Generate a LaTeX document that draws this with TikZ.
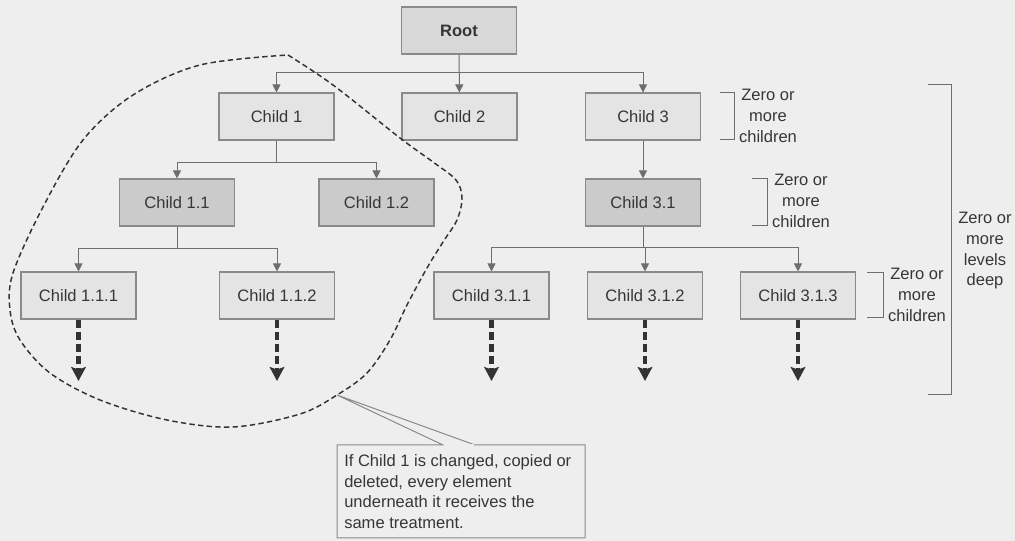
\documentclass[tikz,border=0pt]{standalone}
\usepackage{fontspec}
\setmainfont{Liberation Sans}
\usetikzlibrary{arrows.meta}
\definecolor{bg}{HTML}{EEEEEE}
\definecolor{lightfill}{HTML}{E4E4E4}
\definecolor{darkfill}{HTML}{CBCBCB}
\definecolor{rootfill}{HTML}{D8D8D8}
\definecolor{boxline}{HTML}{8A8A8A}
\definecolor{lineclr}{HTML}{6E6E6E}
\definecolor{txt}{HTML}{363636}
\definecolor{heavy}{HTML}{333333}
\begin{document}
\begin{tikzpicture}[x=0.75pt,y=-0.75pt,
  box/.style={draw=boxline, line width=0.8pt, minimum width=86.25pt,
    minimum height=35.25pt, inner sep=0pt, text=txt,
    font=\fontsize{12.4}{14}\selectfont},
  light/.style={box, fill=lightfill},
  dark/.style={box, fill=darkfill},
  conn/.style={draw=lineclr, line width=0.75pt,
    -{Triangle[length=6pt,width=6pt]}},
  wire/.style={draw=lineclr, line width=0.75pt},
  more/.style={draw=heavy, line width=3.2pt, dash pattern=on 6.5pt off 2.5pt,
    -{Stealth[length=10.5pt,width=11pt,inset=2pt]}},
  brace/.style={draw=lineclr, line width=0.75pt},
  note/.style={text=txt, align=center, inner sep=0pt,
    font=\fontsize{12.4}{15.5}\selectfont},
  group/.style={draw=heavy, line width=1.1pt, dash pattern=on 4pt off 2.5pt}]

% canvas
\fill[bg] (0,0) rectangle (1015,541);
\useasboundingbox (0,0) rectangle (1015,541);

% tree nodes
\node[box, fill=rootfill, font=\fontsize{12.4}{14}\selectfont\bfseries] (root) at (459,30.5) {Root};
\node[light] (c1) at (276.5,116.5) {Child 1};
\node[light] (c2) at (459.5,116.5) {Child 2};
\node[light] (c3) at (643,116.5) {Child 3};
\node[dark] (c11) at (177,202.5) {Child 1.1};
\node[dark] (c12) at (376.5,202.5) {Child 1.2};
\node[dark] (c31) at (643,202.5) {Child 3.1};
\node[light] (c111) at (78.5,295.5) {Child 1.1.1};
\node[light] (c112) at (277,295.5) {Child 1.1.2};
\node[light] (c311) at (491.5,295.5) {Child 3.1.1};
\node[light] (c312) at (645,295.5) {Child 3.1.2};
\node[light] (c313) at (798,295.5) {Child 3.1.3};

% branching points
\coordinate (j0) at (459,73);
\coordinate (j1) at (276.5,163);
\coordinate (j11) at (177,249);
\coordinate (j31) at (643,248);

% connectors
\draw[conn] (root) -- (c2);
\draw[wire] (j0) -| (c1.north);
\draw[conn] (j0 -| c1.north) -- (c1.north);
\draw[wire] (j0) -| (c3.north);
\draw[conn] (j0 -| c3.north) -- (c3.north);

\draw[wire] (c1.south) -- (j1);
\draw[conn] (j1) -| (c11.north);
\draw[conn] (j1) -| (c12.north);

\draw[wire] (c11.south) -- (j11);
\draw[conn] (j11) -| (c111.north);
\draw[conn] (j11) -| (c112.north);

\draw[conn] (c3) -- (c31);
\draw[wire] (c31.south) -- (j31);
\draw[conn] (j31) -| (c311.north);
\draw[conn] (j31) -| (c312.north);
\draw[conn] (j31) -| (c313.north);

% further levels
\coordinate (e111) at (78.5,381);
\coordinate (e112) at (277,381);
\coordinate (e311) at (491.5,381);
\coordinate (e312) at (645,381);
\coordinate (e313) at (798,381);
\draw[more] (c111.south) -- (e111);
\draw[more] (c112.south) -- (e112);
\draw[more] (c311.south) -- (e311);
\draw[more] (c312.south) -- (e312);
\draw[more] (c313.south) -- (e313);

% brackets with notes
\draw[brace] (720,93) -- (734,93) -- (734,140) -- (720,140);
\node[note] (n3) at (768,116) {Zero or\\more\\children};
\draw[brace] (752,179) -- (767,179) -- (767,226) -- (752,226);
\node[note] (n31) at (801,201) {Zero or\\more\\children};
\draw[brace] (867,273) -- (883,273) -- (883,318) -- (867,318);
\node[note] (n313) at (917,295) {Zero or\\more\\children};
\draw[brace] (928,85) -- (951,85) -- (951,395) -- (928,395);
\node[note] (nlev) at (985,251) {Zero or\\more\\levels\\deep};

% subtree outline, with its pointed top
\draw[group] plot[smooth, tension=0.55] coordinates {
  (288,55) (333,85) (400,138) (433,162) (456,180) (462,198) (457,220)
  (443,242) (427,268) (407,305) (390,340) (367,373) (337,395) (300,414)
  (233,427) (167,420) (100,400) (50,373) (20,340) (10,310) (13,273)
  (43,207) (83,140) (133,95) (200,65) (288,55)};

% callout
\coordinate (tip) at (337,395);
\draw[draw=boxline, line width=0.75pt, fill=bg]
  (443,445) -- (tip) -- (475,445) -- (585,445) -- (585,538) -- (337,538)
  -- (337,445) -- cycle;
\fill[bg] (444,444.2) -- (474,444.2) -- (474,446.5) -- (444,446.5) -- cycle;
\node[anchor=north west, align=left, inner sep=0pt, text=txt,
  font=\fontsize{12.4}{15.6}\selectfont] (callout) at (344,454)
  {If Child 1 is changed, copied or\\deleted, every element\\underneath it receives the\\same treatment.};
\end{tikzpicture}
\end{document}
